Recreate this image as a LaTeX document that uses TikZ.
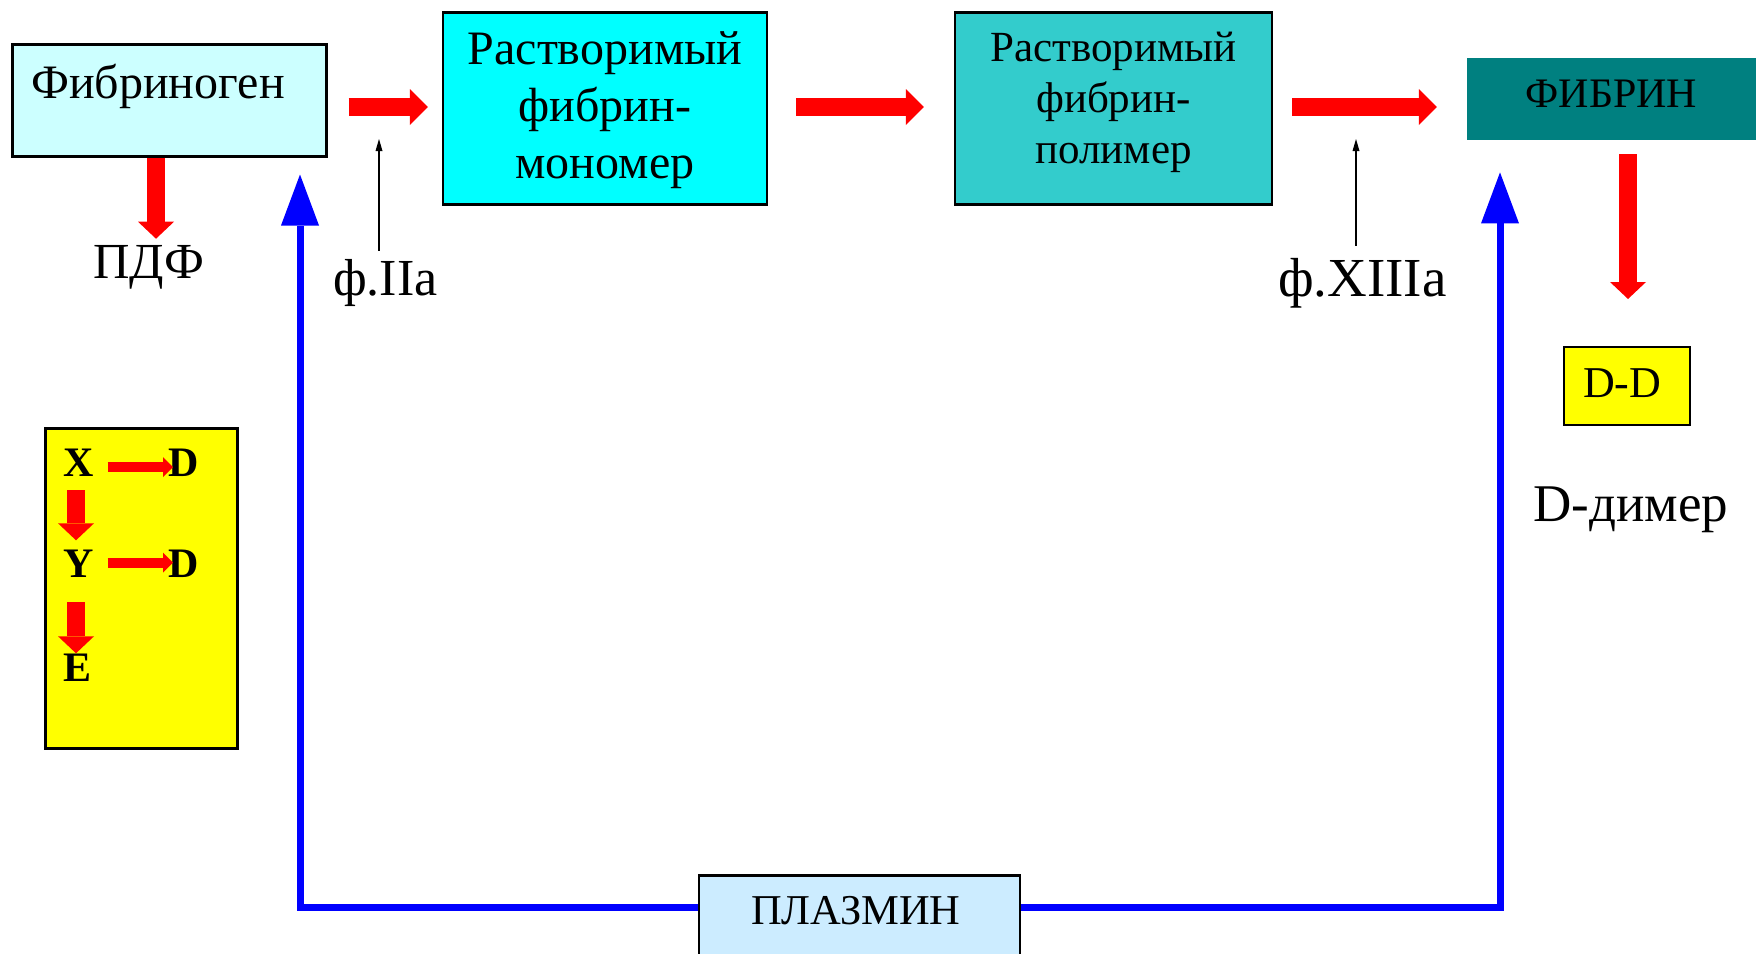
\documentclass[tikz,border=0pt]{standalone}
\usepackage{fontspec}
\setmainfont{Liberation Serif}
\usetikzlibrary{arrows.meta}
\definecolor{fibfill}{HTML}{CCFFFF}
\definecolor{monofill}{HTML}{00FFFF}
\definecolor{polyfill}{HTML}{33CCCC}
\definecolor{fibrinfill}{HTML}{008080}
\definecolor{plasfill}{HTML}{CCECFF}
\definecolor{arrred}{HTML}{FF0000}
\definecolor{arrblue}{HTML}{0000FF}
\definecolor{ddfill}{HTML}{FFFF00}
\newcommand\fsz[2]{\fontsize{#1}{#2}\selectfont}
\begin{document}
\begin{tikzpicture}[x=1pt,y=-1pt,
  boxst/.style={draw=black, line width=2.5pt, inner sep=0pt, align=center},
  bigred/.style={draw=arrred, line width=18pt, -{Triangle[width=36pt,length=18pt,line width=0pt]}},
  smallred/.style={draw=arrred, line width=10pt, -{Triangle[width=20pt,length=10pt,line width=0pt]}},
  downred/.style={draw=arrred, line width=18pt, -{Triangle[width=36pt,length=17pt,line width=0pt]}},
  bluearr/.style={draw=arrblue, line width=7pt, -{Triangle[width=38pt,length=51pt,line width=0pt]}},
  thinarr/.style={draw=black, line width=2pt, -{Triangle[width=7pt,length=12pt,line width=0pt]}},
  lbl/.style={inner sep=0pt, font=\fsz{52}{60}},
  letter/.style={inner sep=0pt, font=\fsz{42}{50}\bfseries},
]
\useasboundingbox (0,0) rectangle (1756,953);
\clip (0,0) rectangle (1756,953);
\fill[white] (0,0) rectangle (1756,953);

% main row boxes
\node[boxst, fill=fibfill, anchor=north west, text width=276pt, inner xsep=19pt, inner ysep=0pt,
      text height=54pt, text depth=58pt, align=left, font=\fsz{48}{56}] (fib) at (11,43) {Фибриноген};
\node[boxst, fill=monofill, minimum width=324pt, inner ysep=0pt, text height=166pt, text depth=26pt,
      font=\fsz{48}{57}, anchor=north] (mono) at (605,11) {Растворимый\\фибрин-\\мономер};
\node[boxst, fill=polyfill, minimum width=317pt, inner ysep=0pt, text height=151pt, text depth=41pt,
      font=\fsz{43}{51}, anchor=north] (poly) at (1113.5,11) {Растворимый\\фибрин-\\полимер};
\node[fill=fibrinfill, minimum width=289pt, inner sep=0pt, text height=49pt, text depth=33pt,
      font=\fsz{42}{50}, anchor=north] (fibrin) at (1611.5,58) {ФИБРИН};

% labels
\node[lbl, anchor=base west, font=\fsz{50.5}{60}] (pdf) at (93,278) {ПДФ};
\node[lbl, anchor=base west] (fIIa) at (333,295) {ф.IIa};
\node[lbl, anchor=base west, font=\fsz{55}{64}] (fXIIIa) at (1278,296) {ф.XIIIa};
\node[boxst, fill=ddfill, line width=2pt, anchor=north west, minimum width=126pt, text width=88pt, inner xsep=19pt, inner ysep=0pt,
      text height=50pt, text depth=28pt, align=left, font=\fsz{44}{50}] (dd) at (1563,346) {D-D};
\node[lbl, anchor=base west, font=\fsz{53}{60}] (ddim) at (1533,521) {D-димер};

% plasmin
\node[boxst, fill=plasfill, text width=217pt, inner xsep=52pt, align=left, text height=49pt, text depth=47pt,
      font=\fsz{42.5}{50}, anchor=north] (plasmin) at (859.5,874) {ПЛАЗМИН};

% yellow box
\node[boxst, fill=ddfill, minimum width=192pt, minimum height=320pt, anchor=north west] (ybox) at (44,427) {};
\node[letter, anchor=base west] (xn) at (63,476) {X};
\node[letter, anchor=base west] (d1) at (168,476) {D};
\node[letter, anchor=base west] (yn) at (63,577) {Y};
\node[letter, anchor=base west] (d2) at (168,577) {D};
\node[letter, anchor=base west] (en) at (63,681) {E};

% helper coordinates
\coordinate (row) at (0,107);
\coordinate (pd) at (156,0);
\coordinate (ddx) at (1628,0);
\coordinate (tIIa) at (379,139);
\coordinate (tXIII) at (1356,139);
\coordinate (bL) at (300,907);
\coordinate (bR) at (1500,907);
\coordinate (r1) at (0,467);
\coordinate (r2) at (0,562.5);
\coordinate (vx) at (76,0);

% red main arrows
\draw[bigred, shorten <=21pt, shorten >=14pt] (fib.east |- row) -- (mono.west |- row);
\draw[bigred, shorten <=28pt, shorten >=30pt] (mono.east |- row) -- (poly.west |- row);
\draw[bigred, shorten <=19pt, shorten >=30pt] (poly.east |- row) -- (fibrin.west |- row);
\draw[downred, shorten >=6pt] (fib.south -| pd) -- (pdf.north -| pd);
\draw[downred, shorten <=14pt, shorten >=47pt] (fibrin.south -| ddx) -- (dd.north -| ddx);

% thin factor arrows
\draw[thinarr, shorten <=8pt] (tIIa |- fIIa.north) -- (tIIa);
\draw[thinarr, shorten <=12pt] (tXIII |- fXIIIa.north) -- (tXIII);

% blue plasmin arrows
\draw[bluearr, shorten >=17pt] (plasmin.west |- bL) -- (bL) -- (bL |- fib.south);
\draw[bluearr, shorten >=32pt] (plasmin.east |- bR) -- (bR) -- (bR |- fibrin.south);

% yellow box arrows
\draw[smallred, shorten <=14pt, shorten >=-5pt] (xn.east |- r1) -- (d1.west |- r1);
\draw[smallred, shorten <=14pt, shorten >=-5pt] (yn.east |- r2) -- (d2.west |- r2);
\draw[downred, shorten <=14pt, shorten >=9pt] (xn.south -| vx) -- (yn.north -| vx);
\draw[downred, shorten <=25pt, shorten >=0pt] (yn.south -| vx) -- (en.north -| vx);
\end{tikzpicture}
\end{document}
